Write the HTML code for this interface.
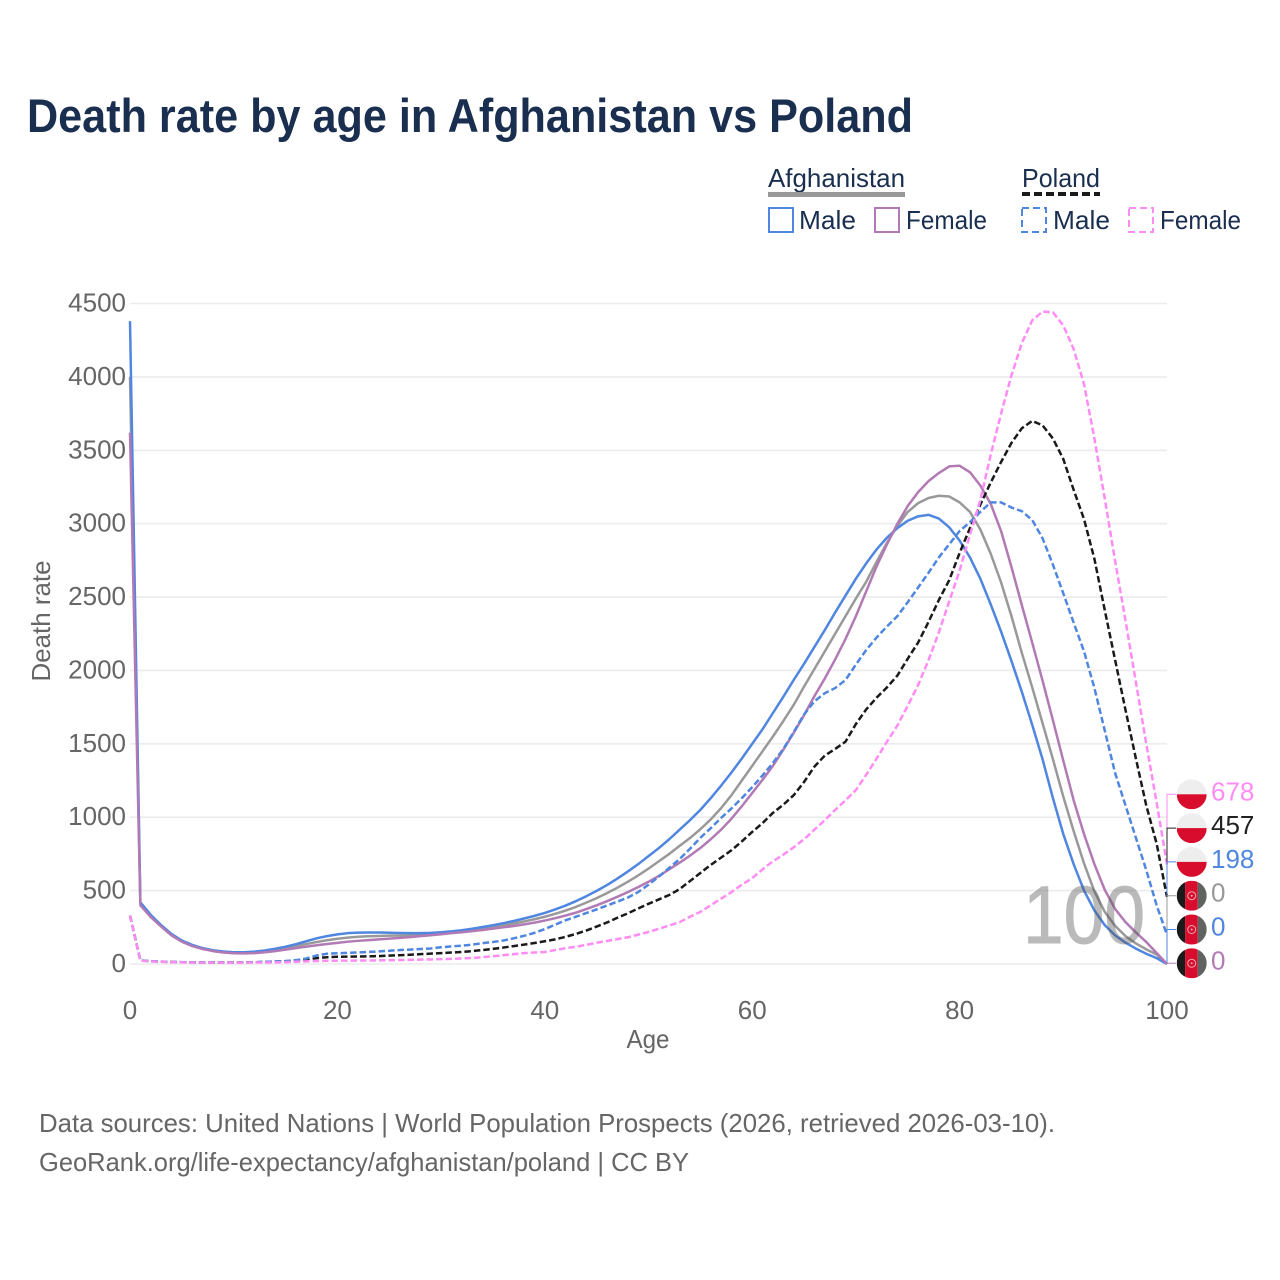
<!DOCTYPE html>
<html lang="en">
<head>
<meta charset="utf-8">
<title>Death rate by age in Afghanistan vs Poland</title>
<style>
html,body{margin:0;padding:0;background:#fff;width:1280px;height:1280px;overflow:hidden}
svg{display:block}
text{font-family:"Liberation Sans",sans-serif}
</style>
</head>
<body>
<svg id="chart" xmlns="http://www.w3.org/2000/svg" width="1280" height="1280" viewBox="0 0 1280 1280">
  <defs><clipPath id="flag-clip"><circle cx="0" cy="0" r="15"></circle></clipPath></defs>
  <text x="27" y="132" font-size="47" font-weight="700" fill="#1a2f4f" textLength="886" lengthAdjust="spacingAndGlyphs">Death rate by age in Afghanistan vs Poland</text>

  <g font-size="26" fill="#1a2f4f">
    <text x="768" y="187" textLength="137" lengthAdjust="spacingAndGlyphs">Afghanistan</text>
    <rect x="768" y="192" width="137" height="5" fill="#999999"></rect>
    <rect x="769" y="208" width="24" height="24" fill="none" stroke="#4f86e0" stroke-width="2"></rect>
    <text x="799" y="229" textLength="57" lengthAdjust="spacingAndGlyphs">Male</text>
    <rect x="875" y="208" width="24" height="24" fill="none" stroke="#b27ab5" stroke-width="2"></rect>
    <text x="906" y="229" textLength="81" lengthAdjust="spacingAndGlyphs">Female</text>
    <text x="1022" y="187" textLength="78" lengthAdjust="spacingAndGlyphs">Poland</text>
    <line x1="1022" y1="194" x2="1100" y2="194" stroke="#1a1a1a" stroke-width="4" stroke-dasharray="8,4"></line>
    <rect x="1022" y="208" width="24" height="24" fill="none" stroke="#4f86e0" stroke-width="2" stroke-dasharray="7,4"></rect>
    <text x="1053" y="229" textLength="57" lengthAdjust="spacingAndGlyphs">Male</text>
    <rect x="1129" y="208" width="24" height="24" fill="none" stroke="#ff8cf5" stroke-width="2" stroke-dasharray="7,4"></rect>
    <text x="1160" y="229" textLength="81" lengthAdjust="spacingAndGlyphs">Female</text>
  </g>

  <g id="grid"></g>
  <g id="yticks" font-size="26" fill="#666" text-anchor="end"></g>
  <g id="xticks" font-size="26" fill="#666" text-anchor="middle"></g>
  <text transform="translate(50,621) rotate(-90)" font-size="26" fill="#666" text-anchor="middle" textLength="121" lengthAdjust="spacingAndGlyphs">Death rate</text>
  <text x="648" y="1048" font-size="26" fill="#666" text-anchor="middle" textLength="43" lengthAdjust="spacingAndGlyphs">Age</text>

  <g id="series" fill="none" stroke-width="2.5" stroke-linejoin="round"></g>
  <text x="1023" y="943" font-size="82" fill="#555" stroke="#555" stroke-width="1" opacity="0.4" textLength="122" lengthAdjust="spacingAndGlyphs">100</text>
  <g id="ends"></g>

  <text x="39" y="1132" font-size="26" fill="#666" textLength="1016" lengthAdjust="spacingAndGlyphs">Data sources: United Nations | World Population Prospects (2026, retrieved 2026-03-10).</text>
  <text x="39" y="1171" font-size="26" fill="#666" textLength="650" lengthAdjust="spacingAndGlyphs">GeoRank.org/life-expectancy/afghanistan/poland | CC BY</text>
</svg>
<script>
const yTickValues = [0, 500, 1000, 1500, 2000, 2500, 3000, 3500, 4000, 4500];
const xTickValues = [0, 20, 40, 60, 80, 100];

const afghanistanBoth = [4000,410,328,260,200,156,126,105,91,82,76,76,79,86,96,108,122,136,150,162,172,180,186,189,191,193,194,196,199,203,209,215,222,231,241,252,264,276,290,305,322,342,364,389,418,449,483,520,560,603,650,700,750,805,858,918,985,1062,1150,1250,1350,1450,1550,1655,1765,1890,2010,2130,2250,2370,2490,2605,2740,2870,2985,3080,3140,3175,3190,3185,3145,3080,2960,2795,2600,2370,2120,1885,1640,1395,1140,905,685,495,355,260,190,140,100,65,0];
const afghanistanMale = [4380,420,335,265,205,160,130,108,94,85,80,80,84,92,104,118,135,155,175,190,202,210,214,215,215,213,211,210,210,212,216,222,230,240,252,264,278,293,310,328,348,372,398,428,462,498,538,582,630,680,735,790,850,915,980,1050,1130,1215,1305,1400,1500,1600,1710,1820,1935,2045,2160,2275,2395,2510,2625,2730,2825,2905,2970,3020,3050,3060,3035,2975,2885,2770,2625,2450,2265,2065,1855,1630,1395,1130,885,680,500,365,265,195,145,105,70,40,0];
const afghanistanFemale = [3620,400,320,255,195,152,122,102,88,78,73,72,74,80,88,98,108,118,128,136,144,152,158,163,168,173,178,183,190,196,203,210,216,224,232,241,250,259,270,282,296,312,330,350,374,400,428,458,490,524,560,600,645,690,738,790,850,915,990,1075,1165,1255,1350,1460,1575,1695,1825,1945,2075,2215,2370,2540,2710,2860,3000,3120,3215,3290,3345,3390,3395,3350,3260,3135,2950,2705,2445,2190,1930,1660,1385,1115,885,680,505,375,285,215,150,75,0];
const polandBoth = [330,24,19,16,14,12,11,10,10,10,10,11,12,14,16,19,24,32,40,46,49,50,51,52,54,57,60,63,67,71,74,78,82,88,95,103,112,122,132,143,155,168,185,205,228,255,283,315,345,378,410,440,470,510,565,620,675,725,775,835,900,960,1030,1085,1150,1240,1345,1420,1465,1515,1635,1735,1815,1885,1965,2080,2190,2330,2480,2615,2800,2970,3130,3280,3420,3550,3650,3700,3670,3580,3440,3230,3030,2760,2410,2070,1730,1400,1080,820,457];
const polandMale = [330,25,20,16,14,12,11,10,10,10,10,11,12,14,17,20,26,38,58,70,73,76,79,82,86,90,95,98,102,106,114,120,125,132,142,150,160,175,192,212,238,268,298,322,347,372,398,425,452,490,540,595,655,715,785,860,925,995,1060,1130,1205,1285,1370,1465,1580,1700,1790,1845,1880,1935,2040,2140,2225,2300,2370,2465,2565,2665,2770,2860,2950,3010,3080,3145,3145,3110,3085,3025,2900,2720,2525,2325,2130,1880,1590,1300,1080,860,640,400,198];
const polandFemale = [330,23,18,15,13,11,10,9,9,9,9,9,10,10,11,13,15,18,20,22,23,23,24,24,25,26,27,28,30,31,33,35,38,41,46,53,60,67,74,78,82,95,108,118,130,145,157,170,182,200,218,240,262,285,322,355,400,445,490,540,585,645,700,745,795,850,915,980,1050,1115,1185,1290,1400,1515,1625,1760,1900,2070,2260,2470,2680,2925,3160,3470,3750,4010,4230,4385,4445,4440,4350,4190,3950,3580,3170,2745,2340,1920,1500,1100,678];

const X0 = 130, X1 = 1167, Y0 = 964, Y1 = 303.5;
function xScale(age) { return X0 + (X1 - X0) * age / 100; }
function yScale(v) { return Y0 + (Y1 - Y0) * v / 4500; }
const NS = 'http://www.w3.org/2000/svg';
function make(tag, attrs, parent) {
  const el = document.createElementNS(NS, tag);
  for (const k in attrs) el.setAttribute(k, attrs[k]);
  parent.appendChild(el);
  return el;
}

const grid = document.getElementById('grid');
const yticks = document.getElementById('yticks');
const xticks = document.getElementById('xticks');
yTickValues.forEach(function (v) {
  const g = make('line', {x1: X0, x2: X1, y1: yScale(v), y2: yScale(v), stroke: '#ececec', 'stroke-width': 1.6}, grid);
  
  
  const t = make('text', {x: 126, y: yScale(v) + 8}, yticks);
  t.textContent = v;
  
  
});
xTickValues.forEach(function (v) {
  const t = make('text', {x: xScale(v), y: 1019}, xticks);
  t.textContent = v;
  
  
});

const seriesGroup = document.getElementById('series');
function drawSeries(values, color, dash, name) {
  const d = values.map(function (v, i) {
    return (i ? 'L' : 'M') + xScale(i).toFixed(2) + ' ' + yScale(v).toFixed(2);
  }).join('');
  const p = make('path', {d: d, stroke: color}, seriesGroup);
  if (dash) p.setAttribute('stroke-dasharray', '6.5,3');
  
  
}
drawSeries(afghanistanBoth, '#999999', false, 'line-afghanistan-both');
drawSeries(afghanistanMale, '#4f86e0', false, 'line-afghanistan-male');
drawSeries(afghanistanFemale, '#b27ab5', false, 'line-afghanistan-female');
drawSeries(polandBoth, '#1a1a1a', true, 'line-poland-both');
drawSeries(polandMale, '#4f86e0', true, 'line-poland-male');
drawSeries(polandFemale, '#ff8cf5', true, 'line-poland-female');

const ends = document.getElementById('ends');
function drawEnd(values, color, country, slot, name) {
  const last = values[values.length - 1];
  const fy = 794.3 + slot * 33.8;
  const c = make('path', {d: 'M' + X1 + ' ' + yScale(last) + 'V' + fy + 'H' + (X1 + 9), fill: 'none', stroke: color, 'stroke-width': 1}, ends);
  
  
  const g = make('g', {transform: 'translate(1191.7,' + fy + ')', 'clip-path': 'url(#flag-clip)'}, ends);
  
  
  if (country === 'PL') {
    make('rect', {x: -15, y: -15, width: 30, height: 15, fill: '#eeeeef'}, g);
    make('rect', {x: -15, y: 0, width: 30, height: 15, fill: '#d80c2c'}, g);
  } else {
    make('rect', {x: -15, y: -15, width: 8.4, height: 30, fill: '#1a1a1a'}, g);
    make('rect', {x: -6.6, y: -15, width: 12.6, height: 30, fill: '#d80c2c'}, g);
    make('rect', {x: 6, y: -15, width: 9, height: 30, fill: '#60635f'}, g);
    make('circle', {cx: 0, cy: 0, r: 4, fill: 'none', stroke: '#eda9b0', 'stroke-width': 1}, g);
    make('circle', {cx: 0, cy: 0, r: 1, fill: '#eda9b0'}, g);
  }
  const t = make('text', {x: 1211, y: fy + 6, 'font-size': 26, fill: color}, ends);
  t.textContent = Math.round(last);
  
  
}
drawEnd(polandFemale, '#ff8cf5', 'PL', 0, 'end-poland-female');
drawEnd(polandBoth, '#222222', 'PL', 1, 'end-poland-both');
drawEnd(polandMale, '#4f86e0', 'PL', 2, 'end-poland-male');
drawEnd(afghanistanBoth, '#999999', 'AF', 3, 'end-afghanistan-both');
drawEnd(afghanistanMale, '#4f86e0', 'AF', 4, 'end-afghanistan-male');
drawEnd(afghanistanFemale, '#b27ab5', 'AF', 5, 'end-afghanistan-female');
</script>
</body>
</html>
